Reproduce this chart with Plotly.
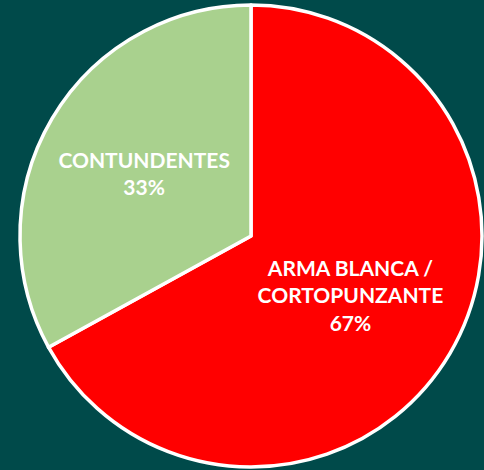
import plotly.graph_objects as go

labels = ["ARMA BLANCA /<br>CORTOPUNZANTE", "CONTUNDENTES"]
values = [67, 33]
colors = ["#FF0000", "#A9D18E"]

W, H = 484, 470
cx, cy, r = 251, 236, 231

fig = go.Figure(go.Pie(
    labels=labels,
    values=values,
    sort=False,
    direction="clockwise",
    rotation=0,
    marker=dict(colors=colors, line=dict(color="white", width=3.5)),
    texttemplate="%{label}<br>%{percent:.0%}",
    textposition="inside",
    insidetextorientation="horizontal",
    textfont=dict(family="Lato", size=21, color="white", weight="bold"),
    showlegend=False,
    hoverinfo="skip",
    domain=dict(x=[(cx - r) / W, (cx + r) / W], y=[(H - cy - r) / H, (H - cy + r) / H]),
))
fig.update_layout(
    width=W, height=H,
    margin=dict(l=0, r=0, t=0, b=0),
    paper_bgcolor="#004A4A",
    plot_bgcolor="#004A4A",
    uniformtext=dict(minsize=21, mode="show"),
)
fig.write_html(
    "out.html",
    config={"displayModeBar": False},
    post_script="document.body.style.margin='0';document.body.style.background='#004A4A';",
)
